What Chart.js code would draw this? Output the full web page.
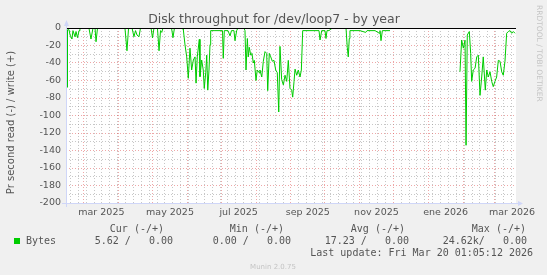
<!DOCTYPE html>
<html><head><meta charset="utf-8">
<script src="https://cdn.jsdelivr.net/npm/chart.js@4/dist/chart.umd.min.js"></script>
<style>html,body{margin:0;padding:0;background:#F0F0F0;}canvas{display:block;}</style>
</head><body>
<canvas id="c" width="547" height="275"></canvas>
<script>
// ---- data ----
const periodStart = Date.UTC(2025, 1, 13, 1, 5, 12); // 400 days before last update
const periodDays = 400;
const dayOffsets = [1.33,1.34,2.7,3.6,5.3,6.2,8,8.9,10.2,11.6,12.4,20.4,22.2,24,25.8,26.7,28,52.4,54.2,55.6,58.7,60.4,61.8,63.1,64.9,66.2,75.6,76.9,78.2,81.3,82.7,84,85.1,86.2,93.8,95.1,96.4,104,104.3,105.8,107.3,108.7,110.2,111.7,113.2,114.7,115.6,116.7,118.5,119.1,120.6,122,122.9,124.2,125.1,126,127.1,128,128.6,132.4,136.9,139.1,139.8,140.7,144,145.8,147.1,149.3,150.2,151.7,152.9,158.2,159.1,160,161.2,162,162.9,164.2,165.3,166.5,167.4,168.9,170,171.6,172.4,174,175.4,176.9,178.4,179.3,180.7,182,183.4,184.9,186.4,187.8,189.1,190.2,191.7,193.2,194.7,196.2,197.6,199.1,200.6,201.5,202.7,203.6,205.1,206.5,208,209.2,210.4,216.9,224.9,225.8,227.3,230.2,231.1,232,233.8,235.6,237.3,248.9,250,250.9,251.8,252.4,261.3,266.4,267.6,274.7,278.5,279.1,280,281.2,284.4,288,319,350.2,351.7,353.2,354.7,355.6,356.7,358.5,359.7,360.6,362,363.6,365.1,366.5,368,369.5,370.9,372.7,374,375.4,376.9,378.4,379.8,381.3,382.8,384.3,385.8,387.3,388.7,390.2,391.7,393.2,394.7,396.2,397.6,399.1];
const readRate = [-68,-2,-2,-8,-12.6,-3,-10,-4,-11,-3,0,0,-12.6,0,0,-15.7,0,0,-26,0,0,-10,-3,-8,-10,0,0,-11.4,0,0,-26,-3,-5,0,0,-11,0,0,-2,-19.4,-33,-57.5,-23,-48,-36.6,-33,-63,-33,-13,-55.6,-36.6,-48,-69,-51,-31,-71,-48,-19,-3,-3,-3,-3,-34.7,-3,-3,-9,-3,-3,-14.5,-3,0,0,-3,-48,-12,-33,-22,-31,-29,-40,-37,-60,-48,-51,-48,-56,-38,-27,-29,-71.6,-29,-33,-38,-37,-48,-51,-96,-21,-59,-65,-54,-61,-37,-69,-71,-79,-61,-47,-54,-48,-56,-48,-3,-3,-3,-13.7,-3,-3,-12,-3,-3,-1,0,0,-22,-33,-12,-3,-3,-5,-3,-3,-6,-3,-14.5,-3,-3,-3,null,-50,-13.7,-23,-14,-134,-8,-4,-29,-61,-48,-46,-33,-31,-77,-56,-33,-71,-48,-56,-50,-61,-67,-61,-56,-37,-38,-50,-54,-38,-6,-4,-3,-6,-4,-6];
const yMin = -200, yMax = 0, yMajorStep = 20, yMinorStep = 10;
const monthLabels = ['mar 2025','may 2025','jul 2025','sep 2025','nov 2025','ene 2026','mar 2026'];
const labelMonths = [[2025,2],[2025,4],[2025,6],[2025,8],[2025,10],[2026,0],[2026,2]];
const seriesName = 'Bytes';
const legendHeaders = ['Cur (-/+)','Min (-/+)','Avg (-/+)','Max (-/+)'];
const legendValues = ['5.62 /   0.00','0.00 /   0.00','17.23 /   0.00','24.62k/   0.00'];
const titleText = 'Disk throughput for /dev/loop7 - by year';
const yTitle = 'Pr second read (-) / write (+)';
const lastUpdate = 'Last update: Fri Mar 20 01:05:12 2026';
const watermark = 'Munin 2.0.75';
const sideText = 'RRDTOOL / TOBI OETIKER';

// ---- styles ----
const LINE = '#00CC00', GRID = 'rgba(143,143,143,0.5)', MGRID = 'rgba(222,79,79,0.5)';
const AXIS = '#CFD6F8', FONT = '#555555', WM = '#C4C4C4';
const SANS = '"DejaVu Sans", sans-serif', MONO = '"DejaVu Sans Mono", monospace';

// ---- x ticks from calendar ----
const DAY = 86400000;
const dayOf = (y, m, d) => (Date.UTC(y, m, d) - periodStart) / DAY;
const kinds = {};
const key = v => v.toFixed(4);
for (let d = new Date(periodStart); ; d = new Date(d.getTime() + DAY)) {
  const v = dayOf(d.getUTCFullYear(), d.getUTCMonth(), d.getUTCDate());
  if (v > periodDays) break;
  if (v < 0) continue;
  if (d.getUTCDay() === 1) kinds[key(v)] = {value: v, kind: 'week'};
}
for (let y = 2025; y <= 2026; y++) for (let m = 0; m < 12; m++) {
  const v = dayOf(y, m, 1);
  if (v >= 0 && v <= periodDays) kinds[key(v)] = {value: v, kind: 'month'};
}
labelMonths.forEach(([y, m], i) => {
  const v = (dayOf(y, m, 1) + dayOf(y, m + 1, 1)) / 2;
  kinds[key(v)] = {value: v, kind: 'label', text: monthLabels[i]};
});
const xTickList = Object.values(kinds).sort((a, b) => a.value - b.value);
const kindOf = v => kinds[key(v)] || {};

const points = dayOffsets.map((d, i) => ({x: d, y: readRate[i]}));

const deco = {
  id: 'deco',
  beforeDraw(chart) {
    const {ctx, chartArea: a} = chart;
    ctx.save();
    ctx.fillStyle = '#F0F0F0';
    ctx.fillRect(0, 0, chart.width, chart.height);
    ctx.fillStyle = '#FFFFFF';
    ctx.fillRect(a.left, a.top, a.right - a.left, a.bottom - a.top);
    ctx.restore();
  },
  afterDatasetsDraw(chart) {
    const {ctx, chartArea: a, scales} = chart;
    ctx.save();
    const y0 = Math.round(scales.y.getPixelForValue(0)) + 0.5;
    ctx.strokeStyle = '#000'; ctx.lineWidth = 1;
    ctx.beginPath(); ctx.moveTo(a.left, y0); ctx.lineTo(a.right, y0); ctx.stroke();
    const xl = Math.round(a.left) + 0.5, yb = Math.round(a.bottom) + 0.5;
    ctx.strokeStyle = AXIS; ctx.fillStyle = AXIS;
    ctx.beginPath(); ctx.moveTo(xl, a.bottom + 4); ctx.lineTo(xl, a.top - 2); ctx.stroke();
    ctx.beginPath(); ctx.moveTo(a.left - 4, yb); ctx.lineTo(a.right + 2, yb); ctx.stroke();
    ctx.beginPath(); ctx.moveTo(xl, a.top - 8); ctx.lineTo(xl - 2.5, a.top - 2); ctx.lineTo(xl + 2.5, a.top - 2); ctx.closePath(); ctx.fill();
    ctx.beginPath(); ctx.moveTo(a.right + 7, yb); ctx.lineTo(a.right + 2, yb - 2.5); ctx.lineTo(a.right + 2, yb + 2.5); ctx.closePath(); ctx.fill();
    ctx.restore();
  },
  afterDraw(chart) {
    const {ctx, chartArea: a} = chart;
    ctx.save();
    ctx.fillStyle = FONT;
    ctx.font = '12.5px ' + SANS;
    ctx.textAlign = 'center'; ctx.textBaseline = 'alphabetic';
    ctx.fillText(titleText, 274, 23);
    ctx.save();
    ctx.translate(13.5, (a.top + a.bottom) / 2 + 7);
    ctx.rotate(-Math.PI / 2);
    ctx.font = '10px ' + SANS;
    ctx.textAlign = 'center';
    ctx.fillText(yTitle, 0, 0);
    ctx.restore();
    ctx.font = '10px ' + MONO;
    ctx.textAlign = 'right';
    const headRight = [164, 284, 405, 526];
    const valRight = [173, 291, 409, 527];
    legendHeaders.forEach((h, i) => ctx.fillText(h, headRight[i], 232));
    legendValues.forEach((v, i) => ctx.fillText(v, valRight[i], 244));
    ctx.fillText(lastUpdate, 533, 256);
    ctx.textAlign = 'left';
    ctx.fillText(seriesName, 26, 244);
    ctx.fillStyle = LINE;
    ctx.fillRect(14, 238, 6, 6);
    ctx.fillStyle = WM;
    ctx.font = '7px ' + SANS;
    ctx.textAlign = 'center';
    ctx.fillText(watermark, 273, 269);
    ctx.save();
    ctx.translate(538.5, 5);
    ctx.rotate(Math.PI / 2);
    ctx.font = '7.5px ' + SANS;
    ctx.textAlign = 'left'; ctx.textBaseline = 'middle';
    ctx.fillText(sideText, 0, 0);
    ctx.restore();
    ctx.restore();
  }
};

new Chart(document.getElementById('c'), {
  type: 'line',
  data: {datasets: [{data: points, borderColor: LINE, borderWidth: 1, pointRadius: 0, fill: false, tension: 0, spanGaps: false}]},
  options: {
    responsive: false, animation: false, devicePixelRatio: 1,
    layout: {padding: {left: 0, right: 31, top: 28, bottom: 0}},
    plugins: {legend: {display: false}, tooltip: {enabled: false}, title: {display: false}},
    scales: {
      x: {
        type: 'linear', min: 0, max: periodDays,
        afterBuildTicks(s) { s.ticks = xTickList.map(t => ({value: t.value})); },
        afterFit(s) { s.height = 72; },
        ticks: {autoSkip: false, maxRotation: 0, minRotation: 0, padding: 4, color: FONT,
          font: {family: SANS, size: 9.5},
          callback: v => kindOf(v).text || ''},
        grid: {drawTicks: false, lineWidth: 1,
          color: c => { const k = c.tick ? kindOf(c.tick.value).kind : null; return k === 'month' ? MGRID : k === 'week' ? GRID : 'rgba(0,0,0,0)'; }},
        border: {display: false, dash: [1, 2]}
      },
      y: {
        type: 'linear', min: yMin, max: yMax,
        afterBuildTicks(s) { const t = []; for (let v = yMin; v <= yMax; v += yMinorStep) t.push({value: v}); s.ticks = t; },
        afterFit(s) { s.width = 66; },
        ticks: {autoSkip: false, padding: 5, color: FONT, font: {family: SANS, size: 9.5},
          callback: v => (v % yMajorStep === 0 ? String(v) : '')},
        grid: {drawTicks: false, lineWidth: 1,
          color: c => (c.tick && c.tick.value % yMajorStep === 0 ? MGRID : GRID)},
        border: {display: false, dash: [1, 2]}
      }
    }
  },
  plugins: [deco]
});
</script>
</body></html>
